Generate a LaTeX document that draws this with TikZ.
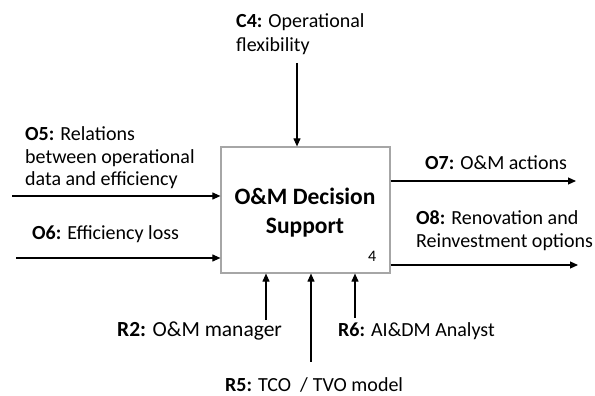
\documentclass[tikz,border=0pt]{standalone}
\usepackage{fontspec}
\setmainfont{Carlito}
\usetikzlibrary{arrows.meta}
\begin{document}
\begin{tikzpicture}[x=1pt,y=1pt,
  lbl/.style={font=\fontsize{20}{23}\selectfont, align=left, inner sep=0pt, anchor=base west},
  arr/.style={-{Triangle[length=8pt,width=7pt]}, line width=1.1pt, black}]
\useasboundingbox (0,0) rectangle (595,396);
\node[draw=gray!70, line width=1.2pt, minimum width=169pt, minimum height=126pt, inner sep=0pt] (box) at (305.5,186) {};
\node[font=\fontsize{23.5}{29}\selectfont\bfseries, align=center] (title) at (305,183) {O\&M Decision\\Support};
\node[font=\fontsize{16}{18}\selectfont, anchor=base west, inner sep=0pt] (num) at (368,134) {4};
% control
\coordinate (c4s) at (297,333);
\draw[arr] (c4s) -- (c4s |- box.north);
\node[lbl, font=\fontsize{20}{24}\selectfont] (c4) at (236,344) {\textbf{C4:} Operational\\flexibility};
% inputs
\coordinate (o5s) at (12,200);
\draw[arr] (o5s) -- (o5s -| box.west);
\node[lbl, font=\fontsize{20}{22.5}\selectfont] (o5) at (25,210) {\textbf{O5:} Relations\\between operational\\data and efficiency};
\coordinate (o6s) at (16,138);
\draw[arr] (o6s) -- (o6s -| box.west);
\node[lbl] (o6) at (32,156) {\textbf{O6:} Efficiency loss};
% outputs
\coordinate (o7e) at (576,215);
\draw[arr] (o7e -| box.east) -- (o7e);
\node[lbl] (o7) at (425,226) {\textbf{O7:} O\&M actions};
\coordinate (o8e) at (578,131);
\draw[arr] (o8e -| box.east) -- (o8e);
\node[lbl] (o8) at (416,148) {\textbf{O8:} Renovation and\\Reinvestment options};
% mechanisms
\coordinate (r2s) at (266,76);
\draw[arr] (r2s) -- (r2s |- box.south);
\node[lbl, font=\fontsize{21.5}{23}\selectfont] (r2) at (117,59) {\textbf{R2:} O\&M manager};
\coordinate (r5s) at (311,34);
\draw[arr] (r5s) -- (r5s |- box.south);
\node[lbl] (r5) at (225,4) {\textbf{R5:} TCO\hspace{9pt}/\hspace{5pt}TVO model};
\coordinate (r6s) at (355,78);
\draw[arr] (r6s) -- (r6s |- box.south);
\node[lbl] (r6) at (338,59) {\textbf{R6:} AI\&DM Analyst};
\end{tikzpicture}
\end{document}
